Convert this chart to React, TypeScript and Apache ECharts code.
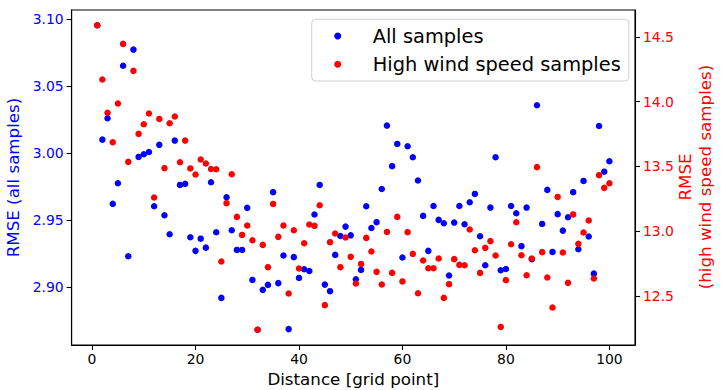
import React, { useEffect, useRef } from "react";
import * as echarts from "echarts";

const distance: number[] = Array.from({ length: 100 }, (_, i) => i + 1);

const allSamples: number[] = [
  3.0953, 3.0099, 3.0259, 2.962, 2.9774, 3.0651, 2.9229, 3.0771, 2.997, 2.999,
  3.0007, 2.9602, 3.006, 2.9535, 2.9393, 3.0092, 2.9761, 2.9769, 2.9371, 2.9269,
  2.936, 2.9293, 2.9781, 2.9408, 2.8918, 2.9669, 2.9423, 2.9276, 2.9276, 2.959,
  2.9052, 2.868, 2.8978, 2.9015, 2.9707, 2.9028, 2.9234, 2.8685, 2.9222, 2.9067,
  2.9132, 2.9119, 2.954, 2.9761, 2.9017, 2.8968, 2.9239, 2.938, 2.945, 2.9385,
  2.9057, 2.9127, 2.9602, 2.944, 2.9483, 2.9731, 3.0204, 2.9901, 3.0067, 2.9219,
  3.005, 2.9968, 2.9794, 2.953, 2.9269, 2.9604, 2.95, 2.9475, 2.9085, 2.948,
  2.9604, 2.9468, 2.9632, 2.9694, 2.9378, 2.9162, 2.9592, 2.9968, 2.9124, 2.9134,
  2.9604, 2.955, 2.9304, 2.9592, 2.9207, 3.0356, 2.947, 2.9724, 2.9261, 2.9543,
  2.942, 2.952, 2.9707, 2.9281, 2.9791, 2.9376, 2.9099, 3.0201, 2.986, 2.9938,
];

const highWind: number[] = [
  14.59, 14.171, 13.914, 13.687, 13.986, 14.446, 13.536, 14.238, 13.752, 13.826,
  13.909, 13.261, 13.867, 13.487, 13.834, 13.886, 13.533, 13.7, 13.485, 13.438,
  13.554, 13.523, 13.481, 13.479, 12.767, 13.217, 13.44, 13.111, 12.972, 13.045,
  12.931, 12.24, 12.895, 12.723, 13.211, 12.957, 13.045, 12.52, 13.008, 12.713,
  12.908, 13.052, 13.042, 13.201, 12.43, 12.916, 12.983, 12.723, 12.952, 12.803,
  12.597, 12.748, 12.949, 12.844, 12.687, 12.589, 12.995, 12.679, 13.111, 12.613,
  12.993, 12.826, 12.522, 12.775, 12.715, 12.715, 12.79, 12.486, 12.592, 12.785,
  12.741, 12.738, 13.014, 12.854, 12.679, 12.872, 12.924, 12.813, 12.262, 12.623,
  12.9, 13.07, 12.815, 12.661, 12.79, 13.495, 12.839, 12.643, 12.412, 13.265,
  12.836, 12.602, 13.13, 12.903, 12.991, 13.083, 12.636, 13.433, 13.335, 13.371,
];

const xTicks: number[] = [0, 20, 40, 60, 80, 100];
const leftTicks: number[] = [2.9, 2.95, 3.0, 3.05, 3.1];
const rightTicks: number[] = [12.5, 13.0, 13.5, 14.0, 14.5];

const legendNames: string[] = ["All samples", "High wind speed samples"];
const rightTitleLines: string[] = ["RMSE", "(high wind speed samples)"];

function padded(values: number[]): [number, number] {
  const lo = Math.min(...values);
  const hi = Math.max(...values);
  const m = (hi - lo) * 0.05;
  return [lo - m, hi + m];
}

const FONT = "DejaVu Sans";

export default function App() {
  const ref = useRef<HTMLDivElement>(null);
  useEffect(() => {
    if (!ref.current) return;
    const chart = echarts.init(ref.current, undefined, { renderer: "svg" });
    const [xMin, xMax] = padded(distance);
    const [lMin, lMax] = padded(allSamples);
    const [rMin, rMax] = padded(highWind);
    const tickStyle = { color: "#000", width: 1.1 };
    chart.setOption({
      animation: false,
      backgroundColor: "#fff",
      grid: {
        left: 71.6,
        right: 88,
        top: 10,
        bottom: 45,
        show: true,
        borderColor: "#000",
        borderWidth: 1.1,
        backgroundColor: "transparent",
        containLabel: false,
        outerBoundsMode: "none",
      },
      graphic: rightTitleLines.map((t, i) => ({
        type: "text",
        x: 685 + i * 20,
        y: 177,
        rotation: Math.PI / 2,
        style: {
          text: t,
          fill: "#ff0000",
          font: `16.7px ${FONT}`,
          align: "center",
          verticalAlign: "middle",
          textAlign: "center",
          textVerticalAlign: "middle",
        },
      })),
      legend: {
        orient: "vertical",
        left: 311.7,
        top: 19.3,
        padding: [5.7, 8, 5.7, 22.5],
        itemWidth: 7,
        itemHeight: 7,
        itemGap: 6.3,
        icon: "circle",
        borderColor: "#d0d0d0",
        borderWidth: 1,
        borderRadius: 4,
        backgroundColor: "rgba(255,255,255,0.8)",
        textStyle: {
          fontFamily: FONT,
          fontSize: 19.4,
          color: "#000",
          lineHeight: 22,
          padding: [0, 0, 0, 26.5],
        },
        data: legendNames,
      },
      xAxis: {
        type: "value",
        min: xMin,
        max: xMax,
        name: "Distance [grid point]",
        nameLocation: "middle",
        nameGap: 23,
        nameTextStyle: { fontFamily: FONT, fontSize: 16.7, color: "#000" },
        axisLine: { show: true, onZero: false, lineStyle: tickStyle },
        axisTick: { show: true, length: 5, lineStyle: tickStyle, customValues: xTicks },
        axisLabel: {
          customValues: xTicks,
          margin: 7,
          fontFamily: FONT,
          fontSize: 13.9,
          color: "#000",
          formatter: (v: number) => String(v),
        },
        splitLine: { show: false },
      },
      yAxis: [
        {
          type: "value",
          position: "left",
          min: lMin,
          max: lMax,
          name: "RMSE (all samples)",
          nameLocation: "middle",
          nameRotate: 90,
          nameGap: 39,
          nameTextStyle: { fontFamily: FONT, fontSize: 16.7, color: "#0000ff" },
          axisLine: { show: true, onZero: false, lineStyle: tickStyle },
          axisTick: { show: true, length: 5, lineStyle: tickStyle, customValues: leftTicks },
          axisLabel: {
            customValues: leftTicks,
            margin: 8,
            fontFamily: FONT,
            fontSize: 13.9,
            color: "#0000ff",
            formatter: (v: number) => v.toFixed(2),
          },
          splitLine: { show: false },
        },
        {
          type: "value",
          position: "right",
          min: rMin,
          max: rMax,
          axisLine: { show: true, onZero: false, lineStyle: tickStyle },
          axisTick: { show: true, length: 5, lineStyle: tickStyle, customValues: rightTicks },
          axisLabel: {
            customValues: rightTicks,
            margin: 8,
            fontFamily: FONT,
            fontSize: 13.9,
            color: "#ff0000",
            formatter: (v: number) => v.toFixed(1),
          },
          splitLine: { show: false },
        },
      ],
      series: [
        {
          name: legendNames[0],
          type: "scatter",
          yAxisIndex: 0,
          symbol: "circle",
          symbolSize: 6.5,
          itemStyle: { color: "#0000ff", opacity: 1 },
          data: distance.map((d, i) => [d, allSamples[i]]),
        },
        {
          name: legendNames[1],
          type: "scatter",
          yAxisIndex: 1,
          symbol: "circle",
          symbolSize: 6.5,
          itemStyle: { color: "#ff0000", opacity: 1 },
          data: distance.map((d, i) => [d, highWind[i]]),
        },
      ],
    });
    return () => chart.dispose();
  }, []);
  return (
    <div
      ref={ref}
      style={{ position: "fixed", left: 0, top: 0, width: 723, height: 390 }}
    />
  );
}
